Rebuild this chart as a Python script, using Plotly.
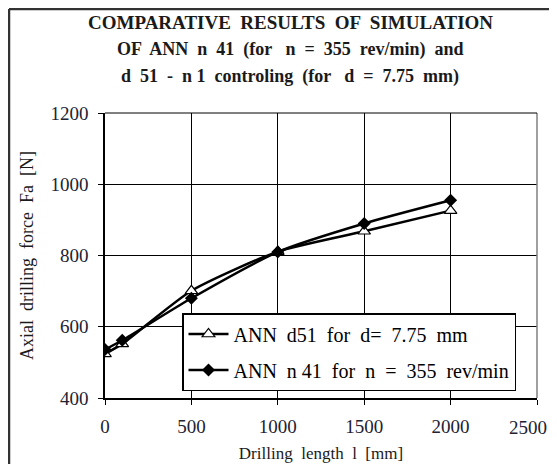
import plotly.graph_objects as go

x_d51 = [0, 100, 500, 1000, 1500, 2000]
y_d51 = [524, 552, 701, 811, 868, 926]
x_n41 = [0, 100, 500, 1000, 1500, 2000]
y_n41 = [536, 562, 680, 810, 890, 955]

x_tickvals = [0, 500, 1000, 1500, 2000, 2500]
x_ticklabels = ["0", "500", "1000", "1500", "2000", "2500"]
y_tickvals = [400, 600, 800, 1000, 1200]

name_d51 = "ANN  d51  for  d=  7.75  mm"
name_n41 = "ANN  n 41  for  n  =  355  rev/min"
title_lines = ["COMPARATIVE  RESULTS  OF  SIMULATION",
               "OF  ANN  n  41  (for   n  =  355  rev/min)  and",
               "d  51  -  n 1  controling  (for   d  =  7.75  mm)"]
title_sizes = [19, 18, 18]
x_title = "Drilling  length  l  [mm]"
y_title = "Axial  drilling  force  Fa  [N]"

FONT = "Liberation Serif, Times New Roman, serif"
OFF = 8  # page body margin
W, H = 557 - 2 * OFF, 472 - 2 * OFF
L, T = 105 - OFF, 113 - OFF
pw, ph = 432, 285
R, B = W - L - pw, H - T - ph

def px(xp):
    return (xp - OFF - L) / pw

def py(yp):
    return (H - B - (yp - OFF)) / ph

fig = go.Figure()
fig.add_trace(go.Scatter(
    x=x_d51, y=y_d51, name=name_d51, mode="lines+markers", legendgroup="a",
    line=dict(color="black", width=2.5, shape="spline", smoothing=0.6),
    marker=dict(symbol="triangle-up", size=11, color="white",
                line=dict(color="black", width=1.2)),
))
fig.add_trace(go.Scatter(
    x=x_n41, y=y_n41, name=name_n41, mode="lines+markers", legendgroup="b",
    line=dict(color="black", width=2.5, shape="spline", smoothing=0.6),
    marker=dict(symbol="diamond", size=10, color="black"),
))

fig.update_layout(
    width=W, height=H,
    margin=dict(l=L, r=R, t=T, b=B, autoexpand=False),
    paper_bgcolor="white", plot_bgcolor="white",
    font=dict(family=FONT, size=19, color="#222222"),
    showlegend=True,
    legend=dict(
        x=px(182), y=py(313), xanchor="left", yanchor="top",
        bgcolor="white", bordercolor="black", borderwidth=1.5,
        font=dict(family=FONT, size=20, color="black"),
        tracegroupgap=7, itemwidth=40,
    ),
    xaxis=dict(
        range=[0, 2500], tickvals=x_tickvals,
        ticktext=x_ticklabels[:-1] + [""],
        showgrid=True, gridcolor="black", gridwidth=1,
        showline=True, linecolor="black", linewidth=1.5,
        ticks="outside", ticklen=5, tickcolor="black",
        ticklabelstandoff=5,
        zeroline=False, automargin=False,
        title=dict(text=x_title, font=dict(family=FONT, size=17, color="#1a1a1a"), standoff=12),
        tickfont=dict(family=FONT, size=19, color="#222233"),
    ),
    yaxis=dict(
        range=[400, 1200], tickvals=y_tickvals,
        showgrid=True, gridcolor="black", gridwidth=1,
        showline=True, linecolor="black", linewidth=1.5,
        ticks="outside", ticklen=5, tickcolor="black",
        ticklabelstandoff=6,
        zeroline=False, automargin=False,
        title=dict(text=y_title, font=dict(family=FONT, size=18, color="#1a1a1a"), standoff=12),
        tickfont=dict(family=FONT, size=19, color="#222233"),
    ),
)

# last x tick label, nudged so it stays inside the picture
fig.add_annotation(text=x_ticklabels[-1], x=x_tickvals[-1], xref="x",
                   y=py(427), yref="paper", xanchor="center", yanchor="middle",
                   xshift=-9, showarrow=False,
                   font=dict(family=FONT, size=19, color="#222233"))

# plot-area border (right side gray)
fig.add_shape(type="line", xref="paper", yref="paper", x0=1, x1=1, y0=0, y1=1,
              line=dict(color="#808080", width=1.5))
fig.add_shape(type="line", xref="paper", yref="paper", x0=0, x1=1, y0=1, y1=1,
              line=dict(color="black", width=1))

# outer frame (left and top)
fig.add_shape(type="line", xref="paper", yref="paper",
              x0=px(9), x1=px(9), y0=py(480), y1=py(9),
              line=dict(color="#333333", width=2.5))
fig.add_shape(type="line", xref="paper", yref="paper",
              x0=px(9), x1=px(560), y0=py(9), y1=py(9),
              line=dict(color="#333333", width=2.5))

for line, yp, sz in zip(title_lines, [23, 50, 76], title_sizes):
    fig.add_annotation(text="<b>" + line + "</b>", xref="paper", yref="paper",
                       x=px(290), y=py(yp), xanchor="center", yanchor="middle",
                       showarrow=False,
                       font=dict(family=FONT, size=sz, color="#1a1a1a"))

fig.write_html("out.html")
